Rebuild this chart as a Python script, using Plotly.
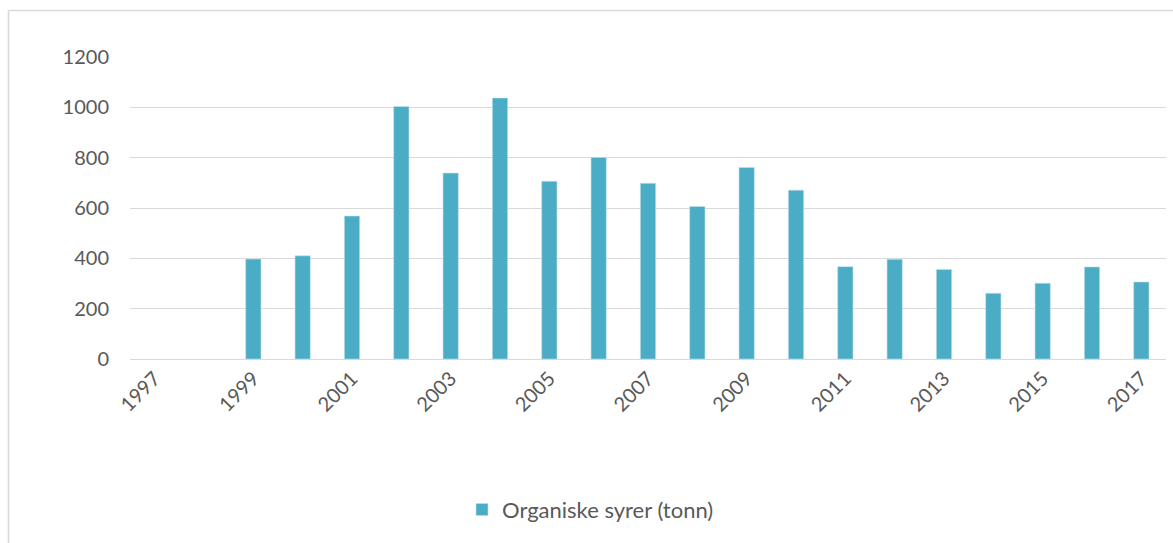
import plotly.graph_objects as go

# Annual quantities of organic acids (tonnes)
years = [str(y) for y in range(1997, 2018)]
values = [None, None, 397, 410, 568, 1003, 739, 1037, 706, 801, 698,
          606, 761, 671, 367, 396, 356, 261, 301, 366, 306]
tick_years = [str(y) for y in range(1997, 2018, 2)]
series_name = "Organiske syrer (tonn)"

text_color = "#595959"
grid_color = "#d9d9d9"
bar_color = "#4bacc6"
font_family = "Lato, 'Open Sans', sans-serif"

fig = go.Figure()
fig.add_trace(go.Bar(
    x=years,
    y=values,
    name=series_name,
    marker=dict(color=bar_color, line=dict(color="#bfe3ec", width=0.6)),
    showlegend=True,
))

W, H = 1173, 543
ml, mr, mt, mb = 130, 7, 57, 184
pw, ph = W - ml - mr, H - mt - mb

# Outer chart frame (left and top edges)
fx = (8.5 - ml) / pw
fy = 1 + (mt - 10.5) / ph
frame = dict(type="line", xref="paper", yref="paper",
             line=dict(color=grid_color, width=1.6), layer="below")

fig.update_layout(
    width=W, height=H,
    margin=dict(l=ml, r=mr, t=mt, b=mb, pad=0),
    paper_bgcolor="white",
    plot_bgcolor="white",
    bargap=0.69,
    font=dict(family=font_family, size=20, color=text_color),
    xaxis=dict(
        type="category",
        categoryorder="array",
        categoryarray=years,
        tickmode="array",
        tickvals=tick_years,
        ticktext=tick_years,
        tickangle=-45,
        showgrid=False,
        showline=False,
        ticks="",
        ticklabelstandoff=3,
        tickfont=dict(size=20, color=text_color),
    ),
    yaxis=dict(
        range=[0, 1200],
        tickvals=[0, 200, 400, 600, 800, 1000, 1200],
        showgrid=True,
        gridcolor=grid_color,
        gridwidth=1.4,
        zeroline=True,
        zerolinecolor=grid_color,
        zerolinewidth=1.4,
        showline=False,
        ticks="",
        ticklabelstandoff=20,
        tickfont=dict(size=20, color=text_color),
    ),
    legend=dict(
        orientation="h",
        x=(462 - ml) / pw,
        xanchor="left",
        y=(359.3 - 510) / ph,
        yanchor="middle",
        font=dict(size=22, color=text_color),
        bgcolor="rgba(0,0,0,0)",
    ),
    shapes=[
        dict(frame, x0=fx, x1=fx, y0=fy, y1=-1.0),
        dict(frame, x0=fx, x1=1.1, y0=fy, y1=fy),
    ],
)

fig.write_html("out.html")
